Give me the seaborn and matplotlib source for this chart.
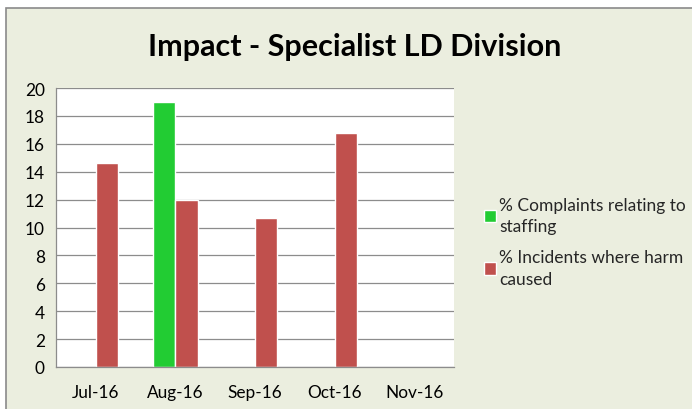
import matplotlib

matplotlib.use("Agg")
import matplotlib.pyplot as plt
from matplotlib.patches import Rectangle
import numpy as np
import pandas as pd
import seaborn as sns

months = ["Jul-16", "Aug-16", "Sep-16", "Oct-16", "Nov-16"]
complaints_pct = [np.nan, 19.0, np.nan, np.nan, np.nan]
incidents_pct = [14.6, 12.0, 10.7, 16.8, np.nan]
series_names = ["% Complaints relating to\nstaffing", "% Incidents where harm\ncaused"]
y_ticks = list(range(0, 21, 2))

BG = "#EBEEDF"
GREEN = "#22CC33"
RED = "#C0504D"
GRID = "#8C8C8C"

df = pd.DataFrame({
    "month": months * 2,
    "value": complaints_pct + incidents_pct,
    "series": [series_names[0]] * len(months) + [series_names[1]] * len(months),
})

sns.set_theme(style="white")
plt.rcParams["font.family"] = ["Lato", "DejaVu Sans"]

W, H = 692, 410
fig = plt.figure(figsize=(W / 100, H / 100), dpi=100, facecolor="white")
fig.patches.append(Rectangle((6 / W, -0.1), 1.2, (H - 9) / H + 0.1, transform=fig.transFigure,
                             facecolor=BG, edgecolor="#8A8A8A", linewidth=1.2, zorder=-10))

ax = fig.add_axes([56 / W, (H - 368) / H, (454 - 56) / W, (368 - 89) / H])
ax.set_facecolor("white")
sns.barplot(data=df, x="month", y="value", hue="series", order=months, hue_order=series_names,
            palette=[GREEN, RED], width=0.56, saturation=1, ax=ax, legend=True)

ax.set_ylim(0, 20)
ax.set_xlim(-0.5, len(months) - 0.5)
ax.set_yticks(y_ticks)
ax.set_xlabel("")
ax.set_ylabel("")
ax.grid(axis="y", color=GRID, linewidth=0.9)
ax.set_axisbelow(True)
for side in ["top", "right"]:
    ax.spines[side].set_visible(False)
for side in ["left", "bottom"]:
    ax.spines[side].set_color(GRID)
    ax.spines[side].set_linewidth(0.9)

ax.set_xticks(np.arange(-0.5, len(months), 1), minor=True)
ax.tick_params(axis="x", which="major", length=0, pad=12, labelsize=12.4, colors="black")
ax.tick_params(axis="x", which="minor", length=5, color=GRID, width=0.9, direction="out")
ax.tick_params(axis="y", length=5, color=GRID, width=0.9, direction="out", labelsize=12.4, colors="black", pad=3)

handles, labels = ax.get_legend_handles_labels()
ax.legend_.remove()
leg = fig.legend(handles, labels, loc="upper left", bbox_to_anchor=(468 / W, (H - 182) / H),
                 frameon=False, fontsize=12.5, handlelength=0.7, handleheight=0.7, handletextpad=0.2,
                 labelspacing=0.9)
for txt in leg.get_texts():
    txt.set_linespacing(1.4)

fig.text(355 / W, (H - 47) / H, "Impact - Specialist LD Division", ha="center", va="center",
         fontsize=22, fontweight="bold", color="black")

fig.savefig("out.png", dpi=100, facecolor=fig.get_facecolor())
